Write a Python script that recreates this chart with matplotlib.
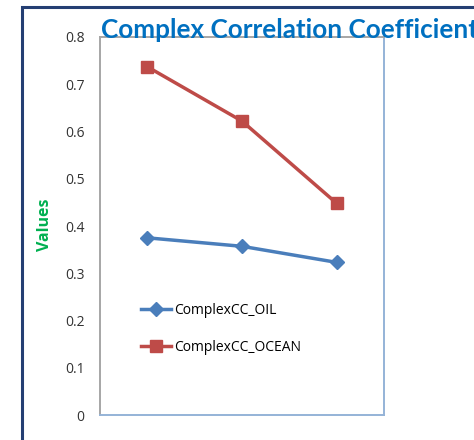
import matplotlib.pyplot as plt
from matplotlib.patches import Rectangle

# correlation values for the three test cases
cases = [1, 2, 3]
oil_cc = [0.375, 0.357, 0.323]
ocean_cc = [0.737, 0.622, 0.448]
y_ticks = [0, 0.1, 0.2, 0.3, 0.4, 0.5, 0.6, 0.7, 0.8]
y_tick_labels = ['0', '0.1', '0.2', '0.3', '0.4', '0.5', '0.6', '0.7', '0.8']

W, H = 474, 440
fig = plt.figure(figsize=(W / 100, H / 100), dpi=100)
fig.patch.set_facecolor('white')

# chart area border (dark navy, runs off the right and bottom)
fig.patches.append(Rectangle((22 / W, -0.05), 1.0, 1 - 7 / H + 0.05,
                             transform=fig.transFigure, fill=False,
                             edgecolor='#243F73', linewidth=2.2))

ax = fig.add_axes([100 / W, 1 - 415 / H, 284 / W, 378 / H])
ax.plot(cases, oil_cc, color='#4A7EBB', lw=2.5, marker='D', ms=7,
        label='ComplexCC_OIL')
ax.plot(cases, ocean_cc, color='#BE4B48', lw=2.5, marker='s', ms=9,
        label='ComplexCC_OCEAN')

ax.set_xlim(0.5, 3.5)
ax.set_ylim(0, 0.8)
ax.set_xticks([])
ax.set_yticks(y_ticks)
ax.set_yticklabels(y_tick_labels, fontsize=10, color='#333333',
                   family='Open Sans')
ax.tick_params(axis='y', length=0, pad=11)

ax.spines['left'].set_color('#A6A6A6')
ax.spines['top'].set_color('#A6A6A6')
ax.spines['right'].set_color('#95B3D7')
ax.spines['bottom'].set_color('#95B3D7')
for s in ax.spines.values():
    s.set_linewidth(1.4)

fig.text(45 / W, 1 - 225 / H, 'Values', rotation=90, ha='center',
         va='center', color='#00B050', fontsize=11.5, fontweight='bold',
         family='Open Sans')

fig.text(101 / W, 1 - 38 / H, 'Complex Correlation Coefficient',
         color='#0070C0', fontsize=18.8, fontweight='bold', family='Lato',
         ha='left', va='baseline')

leg = ax.legend(loc='upper left', bbox_to_anchor=(0.1, 0.33), frameon=False,
                handlelength=2.2, handletextpad=0.2, labelspacing=1.6,
                prop={'family': 'Open Sans', 'size': 10})

fig.savefig('out.png', dpi=100)
